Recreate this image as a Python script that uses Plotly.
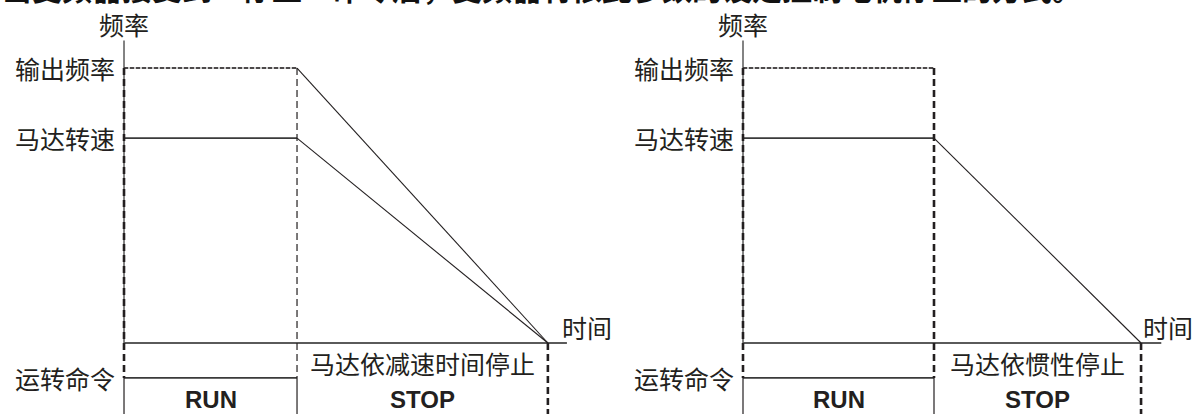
import plotly.graph_objects as go

# ---- data (relative units) ----
# frequency levels (output frequency = 1.0)
out_freq = 1.0
motor_speed = 0.745
freq_axis_top = 1.10
run_level = -0.127
signal_bottom = -0.26

# time points per panel: start, stop command, motor stop, end of time axis
t_start = 0.0
t_stop = 1.0
t_end_decel = 2.45      # left panel: stop by deceleration time
t_end_coast = 2.084     # right panel: coast (inertia) stop
t_axis_end_left = 2.56
t_axis_end_right = 2.19

y_labels = ["输出频率", "马达转速", "运转命令"]
y_label_vals = [out_freq, motor_speed, run_level]
axis_names = ["频率", "时间"]
stop_texts = ["马达依减速时间停止", "马达依惯性停止"]
cmd_texts = ["RUN", "STOP"]
top_text = "当变频器接受到“停止”命令后，变频器将依此参数的设定控制电机停止的方式。"

INK = "#231f20"
GRAY = "#5a5a5a"
CJK = "Noto Sans CJK SC"

fig = go.Figure()


def line(xs, ys, ax, color=INK, width=1.0, dash="solid"):
    fig.add_trace(go.Scatter(
        x=xs, y=ys, mode="lines", xaxis=ax[0], yaxis=ax[1],
        line=dict(color=color, width=width, dash=dash),
        hoverinfo="skip", showlegend=False))


def panel(ax, t_end, t_axis_end, mode, time_shift):
    xr, yr = ax
    # frequency axis (solid, underneath)
    line([t_start, t_start], [0, freq_axis_top], ax, color=GRAY, width=1.5)
    # time axis
    line([t_start, t_axis_end], [0, 0], ax, color=GRAY, width=2.2)
    # output frequency level (dashed over faint solid)
    line([t_start, t_stop], [out_freq, out_freq], ax, color="#9a9a9a", width=1.0)
    line([t_start, t_stop], [out_freq, out_freq], ax, color=INK, width=1.6, dash="4px,2px")
    # motor speed level
    line([t_start, t_stop], [motor_speed, motor_speed], ax, color="#3a3a3a", width=1.6)
    # run command level
    line([t_start, t_stop], [run_level, run_level], ax, color="#3a3a3a", width=1.6)
    # start vertical: bold dashed then solid thin
    line([t_start, t_start], [out_freq, run_level], ax, color=INK, width=2.6, dash="7px,4px")
    line([t_start, t_start], [run_level, signal_bottom], ax, color=INK, width=1.2)
    # stop command vertical
    if mode == "decel":
        line([t_stop, t_stop], [out_freq, run_level], ax, color=INK, width=1.2, dash="7px,4px")
        # output frequency ramps down; motor follows
        line([t_stop, t_end], [out_freq, 0], ax, color=INK, width=1.1)
        line([t_stop, t_end], [motor_speed, 0], ax, color=INK, width=1.1)
    else:
        line([t_stop, t_stop], [out_freq, run_level], ax, color=INK, width=2.6, dash="7px,4px")
        line([t_stop, t_end], [motor_speed, 0], ax, color=INK, width=1.1)
    line([t_stop, t_stop], [run_level, signal_bottom], ax, color=INK, width=1.2)
    # motor stopped marker
    line([t_end, t_end], [0, signal_bottom], ax, color=INK, width=2.6, dash="7px,4px")

    # annotations
    for txt, yv in zip(y_labels, y_label_vals):
        fig.add_annotation(x=t_start, y=yv, xref=xr, yref=yr, text=txt,
                           xanchor="right", yanchor="middle", xshift=-7,
                           showarrow=False, font=dict(family=CJK, size=25, color=INK))
    fig.add_annotation(x=t_start, y=1.16, xref=xr, yref=yr, text=axis_names[0],
                       xanchor="center", yanchor="middle", showarrow=False,
                       font=dict(family=CJK, size=25, color=INK))
    fig.add_annotation(x=t_axis_end, y=0.058, xref=xr, yref=yr, text=axis_names[1],
                       xanchor="left", yanchor="middle", xshift=time_shift, showarrow=False,
                       font=dict(family=CJK, size=25, color=INK))
    stxt = stop_texts[0] if mode == "decel" else stop_texts[1]
    fig.add_annotation(x=(t_stop + t_end) / 2, y=-0.072, xref=xr, yref=yr, text=stxt,
                       xanchor="center", yanchor="middle", showarrow=False,
                       font=dict(family=CJK, size=25, color=INK))
    fig.add_annotation(x=(t_start + t_stop) / 2, y=-0.207, xref=xr, yref=yr, text="<b>" + cmd_texts[0] + "</b>",
                       xanchor="center", yanchor="middle", showarrow=False,
                       font=dict(family="Liberation Sans", size=24, color=INK))
    fig.add_annotation(x=(t_stop + t_end) / 2, y=-0.207, xref=xr, yref=yr, text="<b>" + cmd_texts[1] + "</b>",
                       xanchor="center", yanchor="middle", showarrow=False,
                       font=dict(family="Liberation Sans", size=24, color=INK))


panel(("x", "y"), t_end_decel, t_axis_end_left, "decel", -7)
panel(("x2", "y2"), t_end_coast, t_axis_end_right, "coast", -20)

fig.add_annotation(x=0, y=1.032, xref="paper", yref="paper", text="<b>" + top_text + "</b>",
                   xanchor="left", yanchor="middle", showarrow=False,
                   font=dict(family=CJK, size=30, color="#111111"))

yrange = [-0.2582, 1.2473]
fig.update_layout(
    width=1193, height=414,
    margin=dict(l=0, r=0, t=0, b=0),
    paper_bgcolor="white", plot_bgcolor="white",
    hovermode=False,
    xaxis=dict(domain=[0, 0.5], range=[-0.7168, 2.731], visible=False),
    yaxis=dict(domain=[0, 1], range=yrange, visible=False),
    xaxis2=dict(domain=[0.5, 1], range=[-0.767, 2.356], visible=False),
    yaxis2=dict(domain=[0, 1], range=yrange, visible=False, anchor="x2"),
)

fig.write_html(
    "out.html",
    config={"displayModeBar": False},
    post_script="document.body.style.margin='0';document.body.style.overflow='hidden';",
)
